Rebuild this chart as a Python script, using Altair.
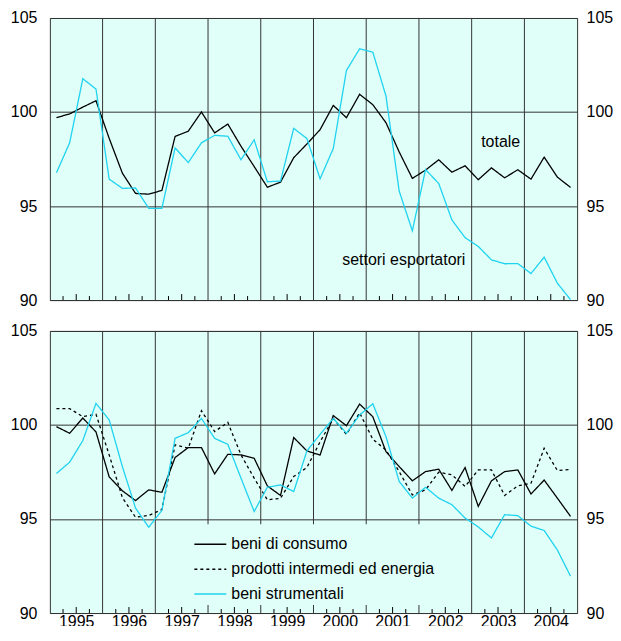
import altair as alt
import pandas as pd

# ---------------- data ----------------
years = list(range(1995, 2005))
quarters = [f"{y} T{q}" for y in years for q in range(1, 5)]

totale = [99.70, 99.90, 100.26, 100.60, 98.60, 96.75, 95.67, 95.63, 95.83, 98.70,
          98.98, 100.00, 98.89, 99.36, 98.18, 97.10, 96.00, 96.27, 97.57, 98.30,
          99.06, 100.35, 99.70, 100.94, 100.39, 99.43, 97.88, 96.47, 96.91, 97.46,
          96.80, 97.14, 96.40, 97.03, 96.50, 96.93, 96.43, 97.60, 96.54, 95.99]

esportatori = [96.77, 98.36, 101.77, 101.22, 96.43, 95.94, 95.96, 94.88, 94.88, 98.09,
               97.31, 98.36, 98.76, 98.71, 97.46, 98.52, 96.29, 96.33, 99.13, 98.59,
               96.45, 98.06, 102.21, 103.36, 103.18, 100.85, 95.80, 93.68, 96.94, 96.20,
               94.26, 93.32, 92.85, 92.14, 91.93, 91.94, 91.41, 92.28, 90.90, 90.02]

consumo = [99.91, 99.56, 100.37, 99.63, 97.24, 96.50, 95.98, 96.55, 96.42, 98.27,
           98.80, 98.80, 97.40, 98.44, 98.41, 98.23, 96.76, 96.25, 99.33, 98.62,
           98.40, 100.50, 99.96, 101.11, 100.44, 98.58, 97.79, 97.03, 97.52, 97.65,
           96.52, 97.74, 95.67, 97.03, 97.52, 97.61, 96.33, 97.07, 96.11, 95.14]

intermedi = [100.87, 100.87, 100.44, 100.57, 98.41, 96.14, 95.09, 95.19, 95.50, 98.94,
             98.76, 100.76, 99.65, 100.14, 98.41, 97.17, 96.02, 96.10, 97.26, 97.74,
             99.10, 100.35, 99.50, 100.65, 99.24, 98.67, 97.52, 96.28, 96.55, 97.49,
             97.35, 96.73, 97.61, 97.61, 96.25, 96.76, 96.90, 98.76, 97.58, 97.63]

strumentali = [97.42, 98.02, 99.17, 101.15, 100.27, 97.79, 95.58, 94.56, 95.46, 99.29,
               99.59, 100.35, 99.29, 98.97, 97.17, 95.40, 96.69, 96.81, 96.46, 98.62,
               99.50, 100.35, 99.56, 100.53, 101.13, 99.38, 97.00, 96.11, 96.69, 96.11,
               95.76, 95.05, 94.58, 93.99, 95.23, 95.18, 94.62, 94.39, 93.35, 91.96]

top_names = ["totale", "settori esportatori"]
bottom_names = ["beni di consumo", "prodotti intermedi ed energia", "beni strumentali"]

# in-chart labels of the top panel (position in quarter index / index value)
label_text = ["totale", "settori esportatori"]
label_t = [34.2, 26.85]
label_v = [98.43, 92.12]

y_ticks = [90, 95, 100, 105]

# ---------------- styling ----------------
BG = "#E0FFF8"
GRID = "#333333"
CYAN = "#1FD3F0"
FONT = "Liberation Sans"
FS = 16
W, H = 529, 283

n = len(quarters)
tpos = [i + 0.5 for i in range(n)]

top_df = pd.DataFrame({
    "t": tpos * 2,
    "v": totale + esportatori,
    "serie": [top_names[0]] * n + [top_names[1]] * n,
})
bottom_df = pd.DataFrame({
    "t": tpos * 3,
    "v": consumo + intermedi + strumentali,
    "serie": [bottom_names[0]] * n + [bottom_names[1]] * n + [bottom_names[2]] * n,
})
labels_df = pd.DataFrame({"t": label_t, "v": label_v, "txt": label_text})

nq = 4 * len(years)
year_bounds = pd.DataFrame({"b": [b for b in range(1, nq) if b % 4 == 0]})
q_ticks = pd.DataFrame({"b": [b for b in range(1, nq) if b % 4 in (1, 3)]})
mid_ticks = pd.DataFrame({"b": [b for b in range(1, nq) if b % 4 == 2]})

xscale = alt.Scale(domain=[0, nq], nice=False, zero=False)
yscale = alt.Scale(domain=[y_ticks[0], y_ticks[-1]], nice=False, zero=False)


def x_axis(show_years):
    if not show_years:
        return None
    return alt.Axis(values=[4 * k + 2 for k in range(len(years))],
                    labelExpr=f"{years[0]} + floor(datum.value / 4)",
                    ticks=False, domain=False, grid=False, title=None,
                    labelFontSize=FS, labelFont=FONT, labelColor="black",
                    labelPadding=1, labelFlush=False, labelOverlap=False)


def y_axis(orient, grid):
    return alt.Axis(orient=orient, values=y_ticks, grid=grid, gridColor=GRID,
                    gridWidth=1, gridOpacity=1, ticks=False, domain=False,
                    title=None, labelFontSize=FS, labelFont=FONT,
                    labelColor="black", labelPadding=13 if orient == "left" else 9,
                    labelFlush=False, labelOverlap=False)


def panel(df, names, colors, dashes, show_years, legend):
    xa = x_axis(show_years)
    xs = lambda f: alt.X(f, type="quantitative", scale=xscale, axis=xa)

    vgrid = alt.Chart(year_bounds).mark_rule(color=GRID, strokeWidth=1).encode(x=xs("b"))
    qt = alt.Chart(q_ticks).mark_rule(color="black", strokeWidth=1).encode(
        x=xs("b"), y=alt.value(H), y2=alt.value(H - 4))
    mt = alt.Chart(mid_ticks).mark_rule(color="black", strokeWidth=1).encode(
        x=xs("b"), y=alt.value(H), y2=alt.value(H - 6))

    lines = alt.Chart(df).mark_line(strokeWidth=1.3).encode(
        x=xs("t"),
        y=alt.Y("v:Q", scale=yscale, axis=y_axis("left", True)),
        color=alt.Color("serie:N", scale=alt.Scale(domain=names, range=colors), legend=legend),
        strokeDash=alt.StrokeDash("serie:N", scale=alt.Scale(domain=names, range=dashes), legend=legend),
        detail="serie:N",
    )
    right = alt.Chart(df).mark_point(opacity=0).encode(
        x=xs("t"),
        y=alt.Y("v:Q", scale=yscale, axis=y_axis("right", False)),
    )
    return [vgrid, qt, mt, lines, right], xs


top_layers, xs_top = panel(top_df, top_names, ["black", CYAN], [[1, 0], [1, 0]], False, None)
texts = alt.Chart(labels_df).mark_text(fontSize=FS, font=FONT, color="black").encode(
    x=xs_top("t"), y=alt.Y("v:Q", scale=yscale, axis=None), text="txt:N")
top = alt.layer(*top_layers, texts).resolve_axis(y="independent").properties(width=W, height=H)

leg = alt.Legend(orient="none", legendX=141, legendY=194, title=None,
                 symbolType="stroke", symbolSize=1024, symbolStrokeWidth=1.5,
                 labelFontSize=FS, labelFont=FONT, labelColor="black",
                 fillColor=BG, padding=3, rowPadding=-15, labelOffset=4,
                 labelLimit=400)
bottom_layers, _ = panel(bottom_df, bottom_names, ["black", "black", CYAN],
                         [[1, 0], [3, 3], [1, 0]], True, leg)
bottom = alt.layer(*bottom_layers).resolve_axis(y="independent").properties(width=W, height=H)

chart = alt.vconcat(top, bottom, spacing=13).resolve_scale(
    color="independent", strokeDash="independent"
).resolve_legend(
    color="independent", strokeDash="independent"
).properties(
    padding={"left": 1, "top": 0, "right": -1, "bottom": -6}
).configure_view(fill=BG, stroke=GRID, strokeWidth=1)

chart.save("out.html", embed_options={"renderer": "svg", "actions": False})
